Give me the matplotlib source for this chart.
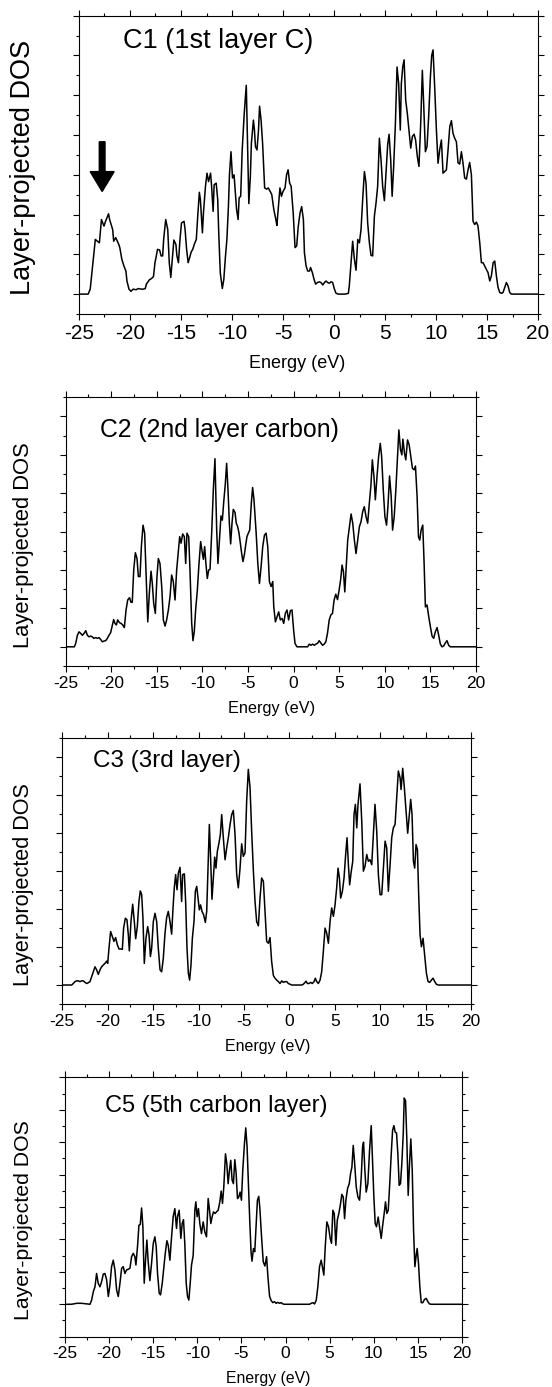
import matplotlib.pyplot as plt
from matplotlib.ticker import MultipleLocator

plt.rcParams['font.family'] = ['Liberation Sans', 'DejaVu Sans']
plt.rcParams['axes.unicode_minus'] = False

# layer-projected DOS, (energy eV, DOS arb. units)
c1 = [(-25, 0), (-24.1, 0), (-23.9, 0.125), (-23.6, 0.875), (-23.4, 1.375), (-23.2, 1.33), (-23.0, 1.29),
      (-22.8, 1.875), (-22.55, 1.71), (-22.4, 1.83), (-22.1, 2.02), (-22.0, 1.875), (-21.7, 1.625), (-21.6, 1.33),
      (-21.4, 1.42), (-21.1, 1.25), (-21.0, 1.17), (-20.8, 0.875), (-20.6, 0.71), (-20.4, 0.58), (-20.3, 0.33),
      (-20.1, 0.125), (-19.9, 0.07), (-19.7, 0.125), (-19.4, 0.11), (-19.2, 0.14), (-18.9, 0.125), (-18.7, 0.125),
      (-18.5, 0.14), (-18.4, 0.25), (-18.1, 0.36), (-17.9, 0.39), (-17.7, 0.44), (-17.55, 0.79), (-17.3, 1.125),
      (-17.1, 1.11), (-16.95, 0.96), (-16.8, 0.96), (-16.7, 1.375), (-16.5, 1.875), (-16.3, 1.625), (-16.15, 0.79),
      (-16.0, 0.42), (-15.85, 0.875), (-15.7, 1.36), (-15.5, 1.25), (-15.4, 0.96), (-15.25, 0.79), (-15.1, 1.375),
      (-14.95, 1.79), (-14.7, 1.83), (-14.6, 1.625), (-14.45, 1.125), (-14.3, 0.79), (-14.15, 0.92), (-14.0, 1.06),
      (-13.85, 1.125), (-13.7, 1.25), (-13.5, 1.375), (-13.35, 2.0), (-13.2, 2.56), (-13.1, 2.375), (-12.9, 1.54),
      (-12.8, 2.04), (-12.6, 2.71), (-12.45, 3.04), (-12.3, 2.83), (-12.1, 3.04), (-12.0, 2.71), (-11.85, 2.08),
      (-11.75, 2.75), (-11.55, 2.79), (-11.4, 2.375), (-11.3, 1.54), (-11.15, 0.54), (-10.95, 0.14), (-10.8, 0.375),
      (-10.65, 0.92), (-10.5, 1.375), (-10.35, 2.21), (-10.25, 3.0), (-10.1, 3.58), (-9.95, 2.92), (-9.8, 3.0),
      (-9.67, 2.54), (-9.55, 2.125), (-9.4, 1.875), (-9.3, 2.42), (-9.15, 2.46), (-9.0, 3.625), (-8.8, 4.54),
      (-8.6, 5.25), (-8.5, 4.04), (-8.35, 2.275), (-8.2, 2.96), (-8.1, 3.79), (-7.9, 4.375), (-7.8, 4.125),
      (-7.7, 3.71), (-7.55, 3.625), (-7.4, 4.125), (-7.3, 4.725), (-7.15, 4.375), (-7.0, 3.79), (-6.9, 3.21),
      (-6.8, 2.67), (-6.6, 2.64), (-6.45, 2.67), (-6.25, 2.58), (-6.1, 2.5), (-5.9, 2.125), (-5.7, 1.875),
      (-5.6, 1.725), (-5.45, 2.21), (-5.3, 2.67), (-5.15, 2.46), (-5.0, 2.58), (-4.8, 2.67), (-4.65, 3.0),
      (-4.5, 3.125), (-4.35, 2.79), (-4.2, 2.71), (-4.0, 2.04), (-3.82, 1.17), (-3.66, 1.21), (-3.5, 1.71),
      (-3.33, 2.04), (-3.17, 2.2), (-3.0, 1.875), (-2.9, 1.04), (-2.74, 0.71), (-2.58, 0.58), (-2.4, 0.58),
      (-2.3, 0.67), (-2.12, 0.54), (-1.96, 0.375), (-1.8, 0.25), (-1.63, 0.29), (-1.43, 0.31), (-1.27, 0.29),
      (-1.1, 0.23), (-0.94, 0.29), (-0.78, 0.33), (-0.62, 0.29), (-0.45, 0.275), (-0.29, 0.31), (-0.13, 0.29),
      (0.04, 0.125), (0.2, 0.02), (0.43, 0), (1.08, 0), (1.41, 0.02), (1.5, 0.21), (1.67, 0.79), (1.83, 1.33),
      (2.0, 0.875), (2.16, 0.6), (2.33, 1.375), (2.49, 1.29), (2.65, 1.625), (2.81, 2.375), (2.98, 3.08),
      (3.14, 2.79), (3.3, 1.79), (3.47, 1.29), (3.63, 0.975), (3.79, 0.96), (3.96, 1.96), (4.12, 2.29),
      (4.28, 2.71), (4.45, 3.92), (4.61, 3.375), (4.77, 2.71), (4.94, 2.35), (5.1, 3.04), (5.26, 3.75),
      (5.4, 4.02), (5.56, 3.375), (5.7, 2.46), (5.85, 3.21), (6.02, 4.29), (6.18, 5.71), (6.34, 5.29),
      (6.5, 4.125), (6.6, 5.29), (6.74, 5.71), (6.87, 5.89), (7.03, 4.875), (7.19, 4.54), (7.36, 4.08),
      (7.52, 3.67), (7.68, 3.96), (7.85, 4.02), (8.0, 3.875), (8.17, 3.46), (8.33, 3.21), (8.5, 4.29),
      (8.66, 5.625), (8.79, 4.79), (8.96, 3.58), (9.12, 3.71), (9.28, 4.46), (9.45, 5.46), (9.58, 6.0),
      (9.71, 6.14), (9.87, 5.21), (10.04, 4.125), (10.2, 3.29), (10.36, 3.625), (10.53, 3.875), (10.69, 3.04),
      (10.85, 3.08), (11.02, 3.125), (11.18, 3.625), (11.35, 4.21), (11.51, 4.36), (11.67, 4.04), (11.83, 3.92),
      (12.0, 3.83), (12.16, 3.3), (12.32, 3.27), (12.49, 3.58), (12.65, 3.29), (12.81, 2.92), (12.98, 2.89),
      (13.14, 3.125), (13.3, 3.31), (13.47, 3.0), (13.63, 1.83), (13.79, 1.75), (13.96, 1.81), (14.12, 1.71),
      (14.29, 1.29), (14.45, 0.79), (14.61, 0.79), (14.77, 0.71), (14.94, 0.625), (15.1, 0.54), (15.27, 0.33),
      (15.43, 0.46), (15.6, 0.79), (15.76, 0.83), (15.92, 0.46), (16.08, 0.17), (16.25, 0.04), (16.41, 0.02),
      (16.57, 0.04), (16.74, 0.17), (16.9, 0.29), (17.06, 0.21), (17.23, 0.04), (17.39, 0), (20, 0)]

c2 = [(-25, 0), (-24.05, 0), (-23.9, 0.09), (-23.72, 0.3), (-23.54, 0.39), (-23.36, 0.35), (-23.17, 0.3),
      (-22.99, 0.35), (-22.8, 0.42), (-22.62, 0.3), (-22.44, 0.26), (-22.26, 0.28), (-22.08, 0.26), (-21.9, 0.22),
      (-21.71, 0.24), (-21.53, 0.22), (-21.35, 0.24), (-21.16, 0.19), (-20.98, 0.13), (-20.8, 0.15), (-20.61, 0.16),
      (-20.43, 0.22), (-20.25, 0.3), (-20.07, 0.37), (-19.88, 0.57), (-19.74, 0.71), (-19.6, 0.61), (-19.44, 0.57),
      (-19.3, 0.7), (-19.1, 0.63), (-18.93, 0.61), (-18.75, 0.57), (-18.57, 0.5), (-18.38, 0.96), (-18.2, 1.22),
      (-18.0, 1.28), (-17.84, 1.16), (-17.7, 1.16), (-17.54, 2.0), (-17.36, 2.45), (-17.18, 2.3), (-17.03, 1.83),
      (-16.85, 1.83), (-16.7, 2.61), (-16.52, 3.17), (-16.34, 2.96), (-16.19, 1.91), (-16.0, 0.65), (-15.83, 1.39),
      (-15.64, 1.97), (-15.5, 1.65), (-15.35, 1.13), (-15.17, 0.87), (-14.99, 1.83), (-14.84, 2.3), (-14.66, 2.17),
      (-14.47, 1.57), (-14.29, 0.7), (-14.1, 0.54), (-13.93, 0.7), (-13.74, 0.96), (-13.56, 1.3), (-13.38, 1.87),
      (-13.2, 1.7), (-13.01, 1.22), (-12.83, 2.0), (-12.65, 2.48), (-12.5, 2.87), (-12.35, 2.7), (-12.17, 2.94),
      (-11.99, 2.87), (-11.84, 2.17), (-11.7, 2.96), (-11.51, 2.87), (-11.37, 2.0), (-11.18, 0.61), (-11.04, 0.16),
      (-10.9, 0.39), (-10.75, 0.96), (-10.56, 1.48), (-10.38, 2.17), (-10.2, 2.74), (-10.05, 2.5), (-9.9, 2.28),
      (-9.76, 2.61), (-9.61, 2.13), (-9.47, 1.78), (-9.32, 2.0), (-9.17, 2.02), (-8.99, 2.96), (-8.81, 4.09),
      (-8.63, 4.9), (-8.44, 3.04), (-8.3, 2.17), (-8.11, 2.87), (-7.97, 3.41), (-7.82, 3.3), (-7.68, 3.74),
      (-7.49, 4.26), (-7.35, 4.78), (-7.2, 4.09), (-7.05, 3.22), (-6.91, 2.68), (-6.76, 3.22), (-6.62, 3.58),
      (-6.43, 3.5), (-6.29, 3.22), (-6.14, 3.13), (-5.99, 2.96), (-5.85, 2.7), (-5.7, 2.43), (-5.56, 2.22),
      (-5.41, 2.39), (-5.26, 2.65), (-5.12, 2.87), (-4.97, 2.96), (-4.82, 3.04), (-4.64, 3.74), (-4.5, 4.15),
      (-4.35, 3.83), (-4.11, 2.96), (-3.93, 2.17), (-3.75, 1.65), (-3.57, 2.09), (-3.39, 2.61), (-3.2, 2.91),
      (-3.02, 2.96), (-2.84, 2.61), (-2.66, 1.7), (-2.47, 1.57), (-2.29, 1.7), (-2.18, 1.04), (-2.0, 0.65),
      (-1.82, 0.78), (-1.64, 0.91), (-1.46, 0.7), (-1.27, 0.74), (-1.09, 0.61), (-0.91, 0.87), (-0.73, 0.96),
      (-0.55, 0.7), (-0.36, 0.94), (-0.18, 0.96), (0.0, 0.43), (0.15, 0.09), (0.36, 0), (1.53, 0), (1.71, 0.07),
      (1.89, 0.04), (2.08, 0.07), (2.26, 0.04), (2.44, 0.07), (2.62, 0.09), (2.8, 0.16), (2.98, 0.1), (3.17, 0.04),
      (3.35, 0.07), (3.53, 0.13), (3.71, 0.35), (3.9, 0.7), (4.08, 0.83), (4.26, 0.87), (4.44, 1.22), (4.62, 1.37),
      (4.81, 1.23), (4.99, 1.48), (5.17, 1.78), (5.31, 2.13), (5.46, 1.96), (5.61, 1.43), (5.75, 2.0), (5.93, 2.78),
      (6.12, 3.13), (6.3, 3.46), (6.48, 3.22), (6.66, 2.78), (6.84, 2.43), (7.03, 2.78), (7.21, 3.13), (7.39, 3.26),
      (7.57, 3.52), (7.75, 3.65), (7.94, 3.39), (8.12, 3.22), (8.3, 3.74), (8.48, 4.22), (8.63, 4.87), (8.81, 4.43),
      (8.96, 3.83), (9.14, 4.43), (9.32, 4.96), (9.5, 5.3), (9.65, 4.96), (9.83, 4.09), (10.01, 3.39),
      (10.19, 3.17), (10.34, 3.65), (10.52, 4.45), (10.7, 3.91), (10.85, 3.04), (11.03, 3.39), (11.21, 4.09),
      (11.39, 4.96), (11.54, 5.65), (11.72, 5.13), (11.87, 5.0), (11.98, 5.41), (12.16, 5.04), (12.3, 4.87),
      (12.49, 5.39), (12.67, 5.26), (12.85, 4.96), (13.03, 4.65), (13.21, 4.61), (13.36, 4.71), (13.54, 3.91),
      (13.69, 2.87), (13.83, 2.78), (13.98, 3.04), (14.16, 3.17), (14.31, 2.17), (14.45, 1.04), (14.63, 1.09),
      (14.82, 0.78), (15.0, 0.52), (15.18, 0.28), (15.36, 0.22), (15.54, 0.39), (15.73, 0.5), (15.91, 0.3),
      (16.09, 0.07), (16.27, 0), (16.45, 0.02), (16.64, 0.1), (16.82, 0.16), (17.0, 0.04), (17.18, 0), (20, 0)]

c3 = [(-25, 0), (-23.97, 0), (-23.79, 0.04), (-23.6, 0.09), (-23.42, 0.11), (-23.24, 0.11), (-23.05, 0.09),
      (-22.87, 0.11), (-22.69, 0.11), (-22.5, 0.07), (-22.32, 0.04), (-22.14, 0.06), (-21.95, 0.09), (-21.77, 0.22),
      (-21.59, 0.35), (-21.4, 0.48), (-21.22, 0.4), (-21.04, 0.28), (-20.85, 0.4), (-20.67, 0.48), (-20.48, 0.53),
      (-20.3, 0.57), (-20.12, 0.63), (-20.0, 0.57), (-19.86, 0.97), (-19.68, 1.41), (-19.49, 1.28), (-19.31, 1.15),
      (-19.13, 1.25), (-18.94, 1.06), (-18.76, 0.95), (-18.58, 0.95), (-18.39, 0.94), (-18.25, 1.5), (-18.06, 1.76),
      (-17.88, 1.72), (-17.73, 1.32), (-17.62, 0.9), (-17.44, 1.67), (-17.25, 2.13), (-17.07, 1.67), (-16.92, 1.22),
      (-16.74, 1.54), (-16.56, 2.2), (-16.41, 2.48), (-16.26, 2.38), (-16.12, 1.76), (-15.97, 0.57), (-15.79, 1.23),
      (-15.6, 1.54), (-15.45, 1.32), (-15.3, 0.75), (-15.16, 0.97), (-14.98, 1.67), (-14.79, 1.89), (-14.61, 1.67),
      (-14.43, 0.97), (-14.24, 0.4), (-14.06, 0.35), (-13.88, 0.7), (-13.69, 1.37), (-13.51, 1.78), (-13.33, 1.94),
      (-13.14, 1.67), (-12.96, 1.34), (-12.81, 2.03), (-12.67, 2.56), (-12.52, 2.91), (-12.37, 2.51), (-12.22, 2.95),
      (-12.04, 3.1), (-11.86, 2.2), (-11.75, 2.91), (-11.56, 2.93), (-11.42, 2.2), (-11.27, 0.97), (-11.12, 0.31),
      (-10.98, 0.13), (-10.83, 0.53), (-10.68, 1.23), (-10.5, 1.67), (-10.35, 2.47), (-10.2, 2.6), (-10.06, 2.29),
      (-9.91, 1.98), (-9.77, 2.11), (-9.62, 1.94), (-9.44, 1.85), (-9.25, 1.65), (-9.1, 1.94), (-8.96, 3.08),
      (-8.81, 4.23), (-8.66, 3.26), (-8.52, 2.26), (-8.37, 2.82), (-8.22, 3.37), (-8.08, 3.08), (-7.93, 3.52),
      (-7.75, 3.74), (-7.6, 3.96), (-7.45, 4.49), (-7.27, 3.88), (-7.08, 3.3), (-6.9, 3.61), (-6.72, 3.88),
      (-6.53, 4.23), (-6.35, 4.49), (-6.17, 4.6), (-5.98, 3.96), (-5.8, 2.91), (-5.62, 2.56), (-5.43, 3.08),
      (-5.25, 3.72), (-5.07, 3.39), (-4.88, 3.48), (-4.7, 4.85), (-4.52, 5.68), (-4.33, 5.2), (-4.15, 4.05),
      (-3.96, 3.0), (-3.78, 2.2), (-3.6, 1.67), (-3.41, 1.56), (-3.23, 2.29), (-3.05, 2.82), (-2.86, 2.73),
      (-2.68, 1.94), (-2.5, 1.15), (-2.31, 1.1), (-2.13, 1.25), (-1.95, 0.62), (-1.76, 0.25), (-1.58, 0.18),
      (-1.4, 0.13), (-1.21, 0.09), (-1.03, 0.04), (-0.84, 0.11), (-0.66, 0.07), (-0.48, 0.09), (-0.29, 0.09),
      (-0.11, 0.04), (0.07, 0.02), (0.26, 0), (1.36, 0), (1.54, 0.02), (1.73, 0.07), (1.84, 0.1), (1.98, 0.04),
      (2.17, 0.04), (2.35, 0.07), (2.53, 0.04), (2.72, 0.09), (2.86, 0.18), (3.01, 0.09), (3.19, 0.04),
      (3.38, 0.13), (3.56, 0.35), (3.74, 0.88), (3.93, 1.5), (4.11, 1.37), (4.3, 1.1), (4.48, 1.67), (4.66, 2.03),
      (4.85, 1.81), (5.03, 2.11), (5.21, 2.56), (5.36, 3.08), (5.51, 2.82), (5.65, 2.29), (5.84, 2.47),
      (6.02, 2.82), (6.2, 3.44), (6.35, 3.88), (6.5, 3.17), (6.64, 2.64), (6.79, 2.95), (6.98, 3.26), (7.12, 4.49),
      (7.27, 4.76), (7.42, 4.14), (7.56, 4.76), (7.78, 5.3), (7.97, 4.32), (8.15, 3.0), (8.33, 3.13), (8.52, 3.44),
      (8.7, 3.26), (8.88, 3.3), (9.07, 3.17), (9.25, 3.96), (9.43, 4.76), (9.62, 4.05), (9.8, 2.91), (9.99, 2.38),
      (10.17, 2.38), (10.35, 3.08), (10.54, 3.79), (10.72, 3.61), (10.9, 2.47), (11.09, 3.17), (11.27, 3.88),
      (11.45, 4.14), (11.64, 4.23), (11.82, 4.93), (12.0, 5.64), (12.19, 5.46), (12.3, 5.15), (12.48, 5.71),
      (12.66, 5.2), (12.85, 4.58), (13.03, 4.0), (13.18, 4.41), (13.36, 4.89), (13.51, 4.49), (13.66, 3.26),
      (13.8, 3.08), (13.95, 3.7), (14.1, 3.57), (14.24, 2.38), (14.39, 1.32), (14.54, 1.01), (14.72, 1.23),
      (14.9, 0.79), (15.09, 0.31), (15.27, 0.09), (15.46, 0.07), (15.64, 0.13), (15.82, 0.18), (16.01, 0.09),
      (16.19, 0.02), (16.41, 0), (20, 0)]

c5 = [(-25, 0), (-24.25, 0), (-23.68, 0.03), (-23.11, 0.03), (-22.17, 0), (-21.98, 0.13), (-21.79, 0.39),
      (-21.6, 0.54), (-21.42, 0.95), (-21.23, 0.64), (-21.04, 0.54), (-20.85, 0.7), (-20.66, 0.93), (-20.47, 0.95),
      (-20.28, 0.75), (-20.09, 0.24), (-19.91, 0.59), (-19.72, 1.16), (-19.53, 1.36), (-19.34, 1.06), (-19.15, 0.44),
      (-18.96, 0.24), (-18.77, 0.65), (-18.58, 1.11), (-18.4, 1.16), (-18.21, 0.95), (-18.02, 1.06), (-17.83, 1.08),
      (-17.64, 1.11), (-17.45, 1.47), (-17.26, 1.57), (-17.08, 1.47), (-16.96, 1.21), (-16.77, 1.82), (-16.62, 2.44),
      (-16.47, 2.46), (-16.32, 2.97), (-16.17, 2.39), (-16.02, 0.65), (-15.87, 1.37), (-15.72, 1.98), (-15.57, 1.31),
      (-15.38, 0.73), (-15.19, 1.26), (-15.0, 1.87), (-14.81, 2.08), (-14.66, 1.77), (-14.51, 0.95), (-14.32, 0.34),
      (-14.17, 0.29), (-13.98, 0.64), (-13.83, 1.06), (-13.64, 1.56), (-13.45, 1.96), (-13.3, 1.82), (-13.11, 1.36),
      (-12.92, 2.08), (-12.74, 2.7), (-12.55, 2.95), (-12.36, 2.34), (-12.25, 2.7), (-12.06, 2.9), (-11.87, 2.03),
      (-11.72, 2.49), (-11.57, 2.61), (-11.42, 1.87), (-11.26, 0.64), (-11.11, 0.24), (-10.96, 0.13), (-10.81, 0.64),
      (-10.66, 1.21), (-10.47, 1.51), (-10.28, 2.9), (-10.17, 3.16), (-10.02, 2.7), (-9.87, 2.95), (-9.72, 2.49),
      (-9.53, 2.18), (-9.34, 2.54), (-9.15, 2.23), (-8.96, 2.08), (-8.77, 3.26), (-8.62, 2.9), (-8.47, 2.49),
      (-8.32, 2.7), (-8.17, 2.85), (-7.98, 2.8), (-7.83, 2.85), (-7.64, 2.9), (-7.45, 3.16), (-7.3, 3.49),
      (-7.15, 3.11), (-7.0, 3.62), (-6.81, 4.64), (-6.66, 4.34), (-6.51, 3.72), (-6.36, 4.13), (-6.21, 4.44),
      (-6.06, 3.83), (-5.91, 3.72), (-5.75, 4.46), (-5.6, 4.03), (-5.45, 3.26), (-5.3, 3.31), (-5.15, 3.46),
      (-5.0, 3.21), (-4.85, 4.13), (-4.66, 4.95), (-4.51, 5.44), (-4.36, 4.85), (-4.21, 3.72), (-4.06, 2.59),
      (-3.91, 1.61), (-3.8, 1.33), (-3.64, 1.72), (-3.49, 1.62), (-3.34, 2.39), (-3.19, 3.21), (-3.04, 3.33),
      (-2.91, 2.95), (-2.72, 2.08), (-2.53, 1.31), (-2.34, 1.18), (-2.15, 1.47), (-2.0, 0.85), (-1.81, 0.24),
      (-1.62, 0.11), (-1.44, 0.05), (-1.25, 0.08), (-1.06, 0.03), (-0.87, 0.06), (-0.68, 0.03), (-0.49, 0.05),
      (-0.3, 0.01), (-0.11, 0), (2.72, 0), (2.91, 0.03), (3.1, 0.05), (3.29, 0.01), (3.48, 0.13), (3.66, 0.54),
      (3.85, 1.16), (4.04, 1.36), (4.23, 1.06), (4.34, 0.9), (4.5, 1.78), (4.68, 2.54), (4.87, 2.39), (5.06, 2.03),
      (5.21, 1.88), (5.36, 2.9), (5.52, 2.8), (5.7, 1.82), (5.86, 2.59), (6.04, 2.8), (6.23, 3.1), (6.38, 3.39),
      (6.54, 3.31), (6.69, 2.64), (6.84, 3.21), (7.03, 3.57), (7.22, 3.72), (7.37, 4.03), (7.52, 4.23), (7.67, 4.9),
      (7.82, 4.39), (8.01, 3.62), (8.2, 3.31), (8.39, 3.21), (8.58, 3.93), (8.73, 4.85), (8.84, 5.0), (8.99, 4.13),
      (9.14, 3.46), (9.33, 3.72), (9.52, 4.74), (9.71, 5.51), (9.86, 4.44), (10.01, 3.31), (10.16, 2.49),
      (10.31, 2.39), (10.5, 2.69), (10.65, 2.39), (10.84, 2.03), (10.99, 2.39), (11.18, 2.8), (11.33, 3.16),
      (11.48, 2.8), (11.64, 2.9), (11.79, 3.62), (11.98, 4.64), (12.13, 5.36), (12.28, 5.51), (12.43, 5.31),
      (12.58, 5.28), (12.73, 4.64), (12.88, 3.67), (13.03, 3.72), (13.18, 4.34), (13.34, 5.26), (13.45, 6.36),
      (13.6, 6.28), (13.75, 5.05), (13.9, 3.36), (14.05, 4.33), (14.2, 5.1), (14.36, 4.13), (14.51, 2.28),
      (14.66, 1.16), (14.81, 1.52), (14.92, 1.72), (15.07, 1.26), (15.22, 0.54), (15.38, 0.05), (15.56, 0.05),
      (15.75, 0.15), (15.94, 0.18), (16.13, 0.08), (16.32, 0.01), (16.51, 0), (20, 0)]

series = [c1, c2, c3, c5]
titles = ["C1 (1st layer C)", "C2 (2nd layer carbon)", "C3 (3rd layer)", "C5 (5th carbon layer)"]
ylims = [(-0.5, 7), (-0.5, 6.5), (-0.5, 6.5), (-1, 7)]
arrow_x, arrow_top, arrow_tip = -22.73, 3.83, 2.58

W, H = 552, 1387
# panel frames in pixels: left, top, right, bottom
boxes = [(79, 15.7, 538, 314), (65.7, 397.3, 476, 666), (62.3, 738.3, 471, 1004), (65, 1077.3, 462, 1336.7)]
title_pos = [(0.096, 0.891), (0.084, 0.853), (0.076, 0.892), (0.10, 0.867)]
title_size = [19.5, 17.8, 17.5, 17]
tick_size = [15, 12.5, 12.5, 12.5]
ylab_pos = [(23, 167), (24, 545), (24, 885), (24, 1220)]
ylab_size = [19.5, 15.8, 15.6, 15.3]
xlab_pos = [(297, 363), (272, 708), (268, 1047), (268, 1378)]
xlab_size = [13, 11.7, 11.5, 11.3]

fig = plt.figure(figsize=(W / 100, H / 100), dpi=100)

for i, pts in enumerate(series):
    l, t, r, b = boxes[i]
    ax = fig.add_axes([l / W, 1 - b / H, (r - l) / W, (b - t) / H])
    energy = [p[0] for p in pts]
    dos = [p[1] for p in pts]
    ax.plot(energy, dos, color="black", lw=1.1)
    ax.set_xlim(-25, 20)
    ax.set_ylim(*ylims[i])
    ax.xaxis.set_major_locator(MultipleLocator(5))
    ax.xaxis.set_minor_locator(MultipleLocator(2.5))
    ax.yaxis.set_major_locator(MultipleLocator(1))
    ax.yaxis.set_minor_locator(MultipleLocator(0.5))
    ax.tick_params(which="both", direction="out", top=True, right=True, width=0.8,
                   labelleft=False, labelsize=tick_size[i], pad=2.5)
    ax.tick_params(which="major", length=4.5)
    ax.tick_params(which="minor", length=2.5)
    for s in ax.spines.values():
        s.set_linewidth(0.8)
    ax.text(title_pos[i][0], title_pos[i][1], titles[i], transform=ax.transAxes,
            fontsize=title_size[i], ha="left", va="baseline")
    fig.text(ylab_pos[i][0] / W, 1 - ylab_pos[i][1] / H, "Layer-projected DOS", rotation=90,
             ha="center", va="center", fontsize=ylab_size[i])
    fig.text(xlab_pos[i][0] / W, 1 - xlab_pos[i][1] / H, "Energy (eV)",
             ha="center", va="center", fontsize=xlab_size[i])
    if i == 0:
        ax.arrow(arrow_x, arrow_top, 0, arrow_tip - arrow_top, width=0.56, head_width=2.35,
                 head_length=0.5, length_includes_head=True, color="black")

fig.savefig("out.png", dpi=100)
